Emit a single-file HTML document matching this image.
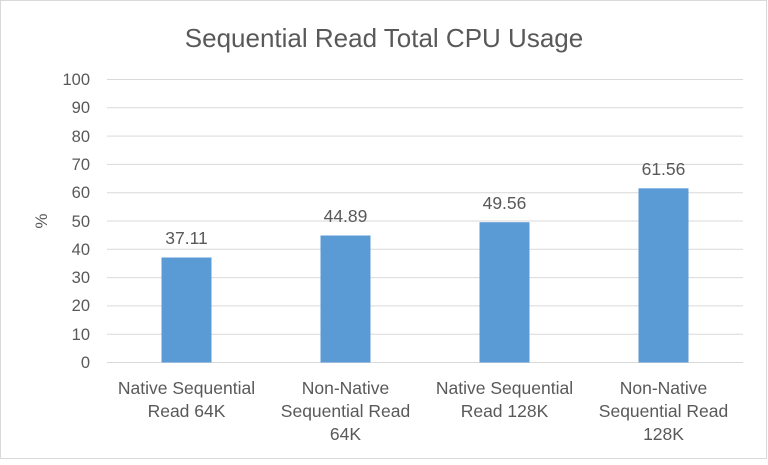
<!DOCTYPE html>
<html><head><meta charset="utf-8"><style>
body{margin:0;background:#fff}
svg text{font-family:"Liberation Sans",sans-serif;fill:#595959}
</style></head><body>
<svg width="768" height="460" viewBox="0 0 768 460" xmlns="http://www.w3.org/2000/svg">
<rect x="0.5" y="0.5" width="766" height="458" fill="#fff" stroke="#d9d9d9"/>
<text x="384" y="47" text-anchor="middle" font-size="26">Sequential Read Total CPU Usage</text>
<g stroke="#d9d9d9" stroke-width="1">
<line x1="107" x2="743" y1="79.5" y2="79.5"/>
<line x1="107" x2="743" y1="107.8" y2="107.8"/>
<line x1="107" x2="743" y1="136.1" y2="136.1"/>
<line x1="107" x2="743" y1="164.4" y2="164.4"/>
<line x1="107" x2="743" y1="192.7" y2="192.7"/>
<line x1="107" x2="743" y1="221" y2="221"/>
<line x1="107" x2="743" y1="249.3" y2="249.3"/>
<line x1="107" x2="743" y1="277.6" y2="277.6"/>
<line x1="107" x2="743" y1="305.9" y2="305.9"/>
<line x1="107" x2="743" y1="334.2" y2="334.2"/>
<line x1="107" x2="743" y1="362.5" y2="362.5"/>
</g>
<g font-size="16.5" text-anchor="end">
<text x="90" y="85">100</text><text x="90" y="113">90</text><text x="90" y="142">80</text>
<text x="90" y="170">70</text><text x="90" y="198">60</text><text x="90" y="227">50</text>
<text x="90" y="255">40</text><text x="90" y="283">30</text><text x="90" y="311">20</text>
<text x="90" y="340">10</text><text x="90" y="368">0</text>
</g>
<text transform="translate(47,221) rotate(-90)" text-anchor="middle" font-size="17">%</text>
<g fill="#5b9bd5">
<rect x="161.5" y="257.5" width="50" height="105"/>
<rect x="320.5" y="235.5" width="50" height="127"/>
<rect x="479.5" y="222.2" width="50" height="140.3"/>
<rect x="638.5" y="188.3" width="50" height="174.2"/>
</g>
<g font-size="17.5" text-anchor="middle">
<text x="186.5" y="244">37.11</text>
<text x="345.5" y="222">44.89</text>
<text x="504.5" y="209">49.56</text>
<text x="663.5" y="175">61.56</text>
<text x="186.5" y="394">Native Sequential</text><text x="186.5" y="417">Read 64K</text>
<text x="345.5" y="394">Non-Native</text><text x="345.5" y="417">Sequential Read</text><text x="345.5" y="440">64K</text>
<text x="504.5" y="394">Native Sequential</text><text x="504.5" y="417">Read 128K</text>
<text x="663.5" y="394">Non-Native</text><text x="663.5" y="417">Sequential Read</text><text x="663.5" y="440">128K</text>
</g>
</svg>
</body></html>
